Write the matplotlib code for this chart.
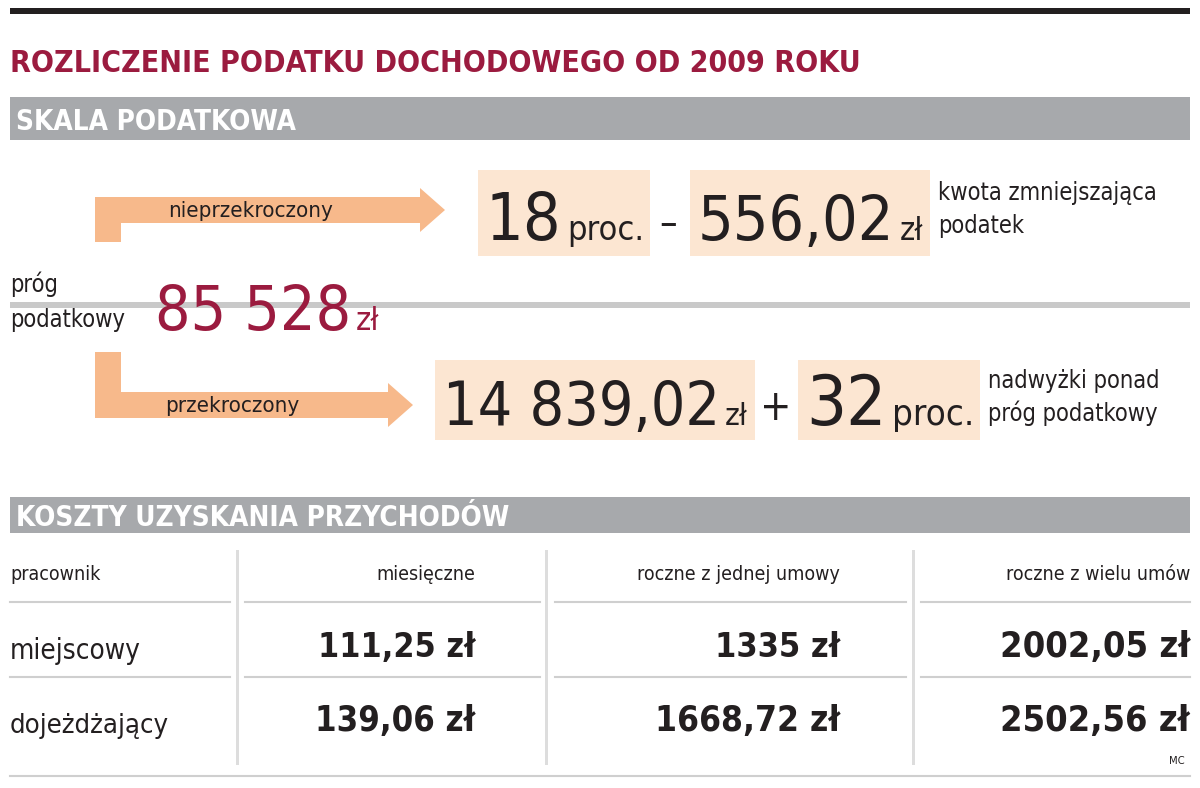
import matplotlib
matplotlib.use("Agg")
import matplotlib.pyplot as plt
from matplotlib.patches import Rectangle, Polygon

plt.rcParams['font.family'] = ['DejaVu Sans', 'Liberation Sans']
plt.rcParams['font.stretch'] = 'condensed'

RED = '#9b1b3f'
GRAY = '#a7a9ac'
ORANGE = '#f7b98b'
BEIGE = '#fce6d2'
TXT = '#231f20'

title = 'ROZLICZENIE PODATKU DOCHODOWEGO OD 2009 ROKU'
section1 = 'SKALA PODATKOWA'
section2 = 'KOSZTY UZYSKANIA PRZYCHODÓW'
threshold = '85 528'
low_rate, low_reduction = '18', '556,02'
high_base, high_rate = '14 839,02', '32'
col_headers = ['pracownik', 'miesięczne', 'roczne z jednej umowy', 'roczne z wielu umów']
row_labels = ['miejscowy', 'dojeżdżający']
monthly = ['111,25 zł', '139,06 zł']
yearly_one = ['1335 zł', '1668,72 zł']
yearly_many = ['2002,05 zł', '2502,56 zł']

fig = plt.figure(figsize=(12, 7.88), dpi=100)
ax = fig.add_axes([0, 0, 1, 1])
ax.set_xlim(0, 1200)
ax.set_ylim(788, 0)
ax.axis('off')
fig.canvas.draw()
rend = fig.canvas.get_renderer()

def width(t):
    return t.get_window_extent(rend).width

def rect(x0, y0, x1, y1, c):
    ax.add_patch(Rectangle((x0, y0), x1 - x0, y1 - y0, color=c, lw=0))

def fit(x, y, s, size, w, ha='left', **kw):
    # draw text shrunk so it is no wider than w pixels
    t = ax.text(x, y, s, fontsize=size, ha=ha, va='baseline', **kw)
    cur = width(t)
    if cur > w:
        t.set_fontsize(size * w / cur)
    return t

def chain(x, y, parts, w, gap=6, color=TXT):
    # parts: (text, size); placed one after the other on a common baseline
    ts = [ax.text(x, y, s, fontsize=sz, va='baseline', color=color) for s, sz in parts]
    tot = sum(width(t) for t in ts) + gap * (len(ts) - 1)
    k = min(1, w / tot)
    cx = x
    for t, (s, sz) in zip(ts, parts):
        t.set_fontsize(sz * k)
        t.set_x(cx)
        cx += width(t) + gap * k
    return cx

# header
rect(10, 8, 1190, 14, TXT)
fit(10, 72, title, 24, 852, color=RED, fontweight='bold')
rect(10, 97, 1190, 140, GRAY)
fit(16, 130, section1, 20, 290, color='white', fontweight='bold')

# arrows
def arrow(yv0, yv1, yh, xend, label, lx):
    rect(95, yv0, 121, yv1, ORANGE)
    rect(95, yh - 13, xend, yh + 13, ORANGE)
    ax.add_patch(Polygon([(xend, yh - 22), (xend + 25, yh), (xend, yh + 22)], color=ORANGE, lw=0))
    fit(lx, yh + 7, label, 16, xend - lx - 40, color=TXT)

arrow(197, 242, 210, 420, 'nieprzekroczony', 168)
arrow(352, 418, 405, 388, 'przekroczony', 165)

# upper formula
rect(478, 170, 650, 256, BEIGE)
rect(690, 170, 930, 256, BEIGE)
chain(486, 240, [(low_rate, 54), ('proc.', 28)], 158)
ax.text(668, 235, '–', fontsize=28, color=TXT, ha='center', va='baseline')
chain(698, 240, [(low_reduction, 54), ('zł', 28)], 225)
fit(938, 200, 'kwota zmniejszająca', 17, 252, color=TXT)
fit(938, 233, 'podatek', 17, 252, color=TXT)

# separator & threshold
rect(10, 302, 1190, 308, '#c9c9c9')
fit(10, 292, 'próg', 17, 140, color=TXT)
fit(10, 327, 'podatkowy', 17, 140, color=TXT)
chain(155, 330, [(threshold, 54), ('zł', 28)], 225, color=RED)

# lower formula
rect(435, 360, 755, 440, BEIGE)
rect(798, 360, 980, 440, BEIGE)
chain(443, 425, [(high_base, 54), ('zł', 28)], 305)
ax.text(776, 420, '+', fontsize=30, color=TXT, ha='center', va='baseline')
chain(806, 425, [(high_rate, 54), ('proc.', 28)], 168)
fit(988, 388, 'nadwyżki ponad', 17, 200, color=TXT)
fit(988, 421, 'próg podatkowy', 17, 200, color=TXT)

# table section
rect(10, 497, 1190, 533, GRAY)
fit(16, 526, section2, 20, 495, color='white', fontweight='bold')

for x in [237, 546, 913]:
    rect(x - 1.5, 550, x + 1.5, 765, '#dddddd')
segs = [(10, 230), (245, 540), (555, 906), (921, 1190)]
for y in [602, 677]:
    for a, b in segs:
        ax.plot([a, b], [y, y], color='#cfcfcf', lw=1.5)
ax.plot([10, 1190], [776, 776], color='#cfcfcf', lw=1.5)

right_x = [475, 840, 1190]
hdr_w = [110, 225, 200]
fit(10, 580, col_headers[0], 14, 100, color=TXT)
for x, h, w in zip(right_x, col_headers[1:], hdr_w):
    fit(x, 580, h, 14, w, ha='right', color=TXT)

val_w = [[157, 125, 190], [160, 185, 190]]
for i, ypos in enumerate([657, 731]):
    fit(10, ypos + 2, row_labels[i], 20, 160, color=TXT)
    for j, (x, v) in enumerate(zip(right_x, [monthly[i], yearly_one[i], yearly_many[i]])):
        fit(x, ypos, v, 30, val_w[i][j], ha='right', fontweight='bold', color=TXT)

ax.text(1185, 764, 'MC', fontsize=8, color=TXT, va='baseline', ha='right')

fig.savefig('out.png', dpi=100)
